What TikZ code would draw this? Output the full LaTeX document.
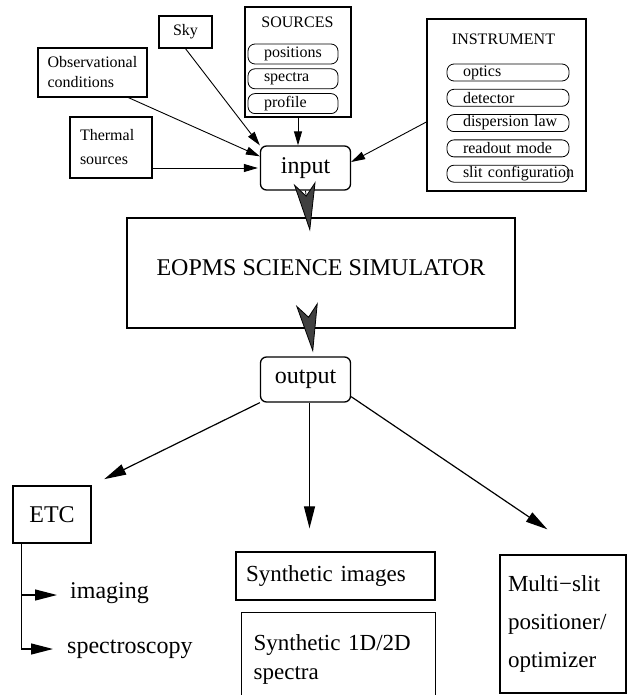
\documentclass[tikz,border=0pt]{standalone}
\usepackage{fontspec}
\setmainfont{Liberation Serif}
\usepackage{tikz}
\usetikzlibrary{arrows.meta, positioning}
\definecolor{headgray}{HTML}{404040}
\newcommand{\smalltxt}{\fontsize{16}{20}\selectfont}
\newcommand{\bigtxt}{\fontsize{24}{30}\selectfont}
\tikzstyle{box} = [rectangle, draw=black, line width=1.3pt, inner sep=0pt]
\tikzstyle{roundbox} = [box, rounded corners=6pt, minimum width=90pt, minimum height=44pt, font=\bigtxt]
\tikzstyle{pill} = [rectangle, draw=black, line width=0.8pt, rounded corners=7pt, inner ysep=0pt, inner xsep=16pt, align=left, font=\smalltxt]
\tikzstyle{arrow} = [line width=0.9pt, -{Triangle[length=14pt,width=8pt]}]
\tikzstyle{bigarrow} = [line width=0.8pt, -{Stealth[length=49pt,width=22pt,inset=13pt,fill=headgray]}]
\tikzstyle{outarrow} = [line width=1.2pt, -{Triangle[length=22pt,width=11pt]}]

\begin{document}
\begin{tikzpicture}[x=1pt, y=-1pt, node distance=4pt]
\useasboundingbox (0,0) rectangle (627,695);
\clip (0,0) rectangle (627,695);

% Inputs
\node (sky) [box, minimum width=53pt, minimum height=32pt, font=\smalltxt] at (185.5,32) {Sky};
\node (obs) [box, minimum width=109pt, minimum height=49pt, text width=90pt, align=left, font=\smalltxt] at (92.5,72.5) {Observational\\conditions};
\node (thermal) [box, minimum width=82pt, minimum height=61pt, text width=62pt, align=left, font=\fontsize{16}{24}\selectfont] at (111,147.5) {Thermal\\sources};

% Sources
\node (sources) [box, minimum width=106pt, minimum height=110pt] at (298,62) {};
\node (src_title) [font=\smalltxt, inner sep=0pt] at (297.5,22.5) {SOURCES};
\node (src_pos) [pill, text width=58pt, minimum height=20pt] at (293,54) {positions};
\node (src_spec) [pill, text width=58pt, minimum height=20pt, below=of src_pos] {spectra};
\node (src_prof) [pill, text width=58pt, minimum height=20pt, below=of src_spec] {profile};

% Instrument
\node (instrument) [box, minimum width=159pt, minimum height=172pt] at (506.5,105) {};
\node (ins_title) [font=\smalltxt, inner sep=0pt] at (503.5,39.5) {INSTRUMENT};
\node (ins_opt) [pill, text width=90pt, minimum height=17pt] at (508,72.5) {optics};
\node (ins_det) [pill, text width=90pt, minimum height=17pt, below=7.5pt of ins_opt] {detector};
\node (ins_disp) [pill, text width=90pt, minimum height=17pt, below=7.5pt of ins_det] {\mbox{dispersion law}};
\node (ins_read) [pill, text width=90pt, minimum height=17pt, below=7.5pt of ins_disp] {\mbox{readout mode}};
\node (ins_slit) [pill, text width=90pt, minimum height=17pt, below=7.5pt of ins_read] {\mbox{slit configuration}};

% Simulator
\node (input) [roundbox] at (305.5,168) {input};
\node (sim) [box, minimum width=388pt, minimum height=110pt, font=\bigtxt, text depth=10pt] at (321,273) {EOPMS SCIENCE SIMULATOR};
\node (output) [roundbox, minimum height=45pt] at (305.5,379.5) {output};

% Products
\node (etc) [box, minimum width=78pt, minimum height=57pt, font=\bigtxt] at (52,514.5) {ETC};
\node (imaging) [font=\bigtxt, inner sep=0pt, anchor=base west] at (70,598) {imaging};
\node (spectro) [font=\bigtxt, inner sep=0pt, anchor=base west] at (67,653) {spectroscopy};
\node (synimg) [box, minimum width=199pt, minimum height=48pt, text width=179pt, align=left, font=\fontsize{23}{30}\selectfont] at (335.5,576) {Synthetic images};
\node (synspec) [box, anchor=north west, inner xsep=12pt, inner ysep=22pt, text width=170pt, align=left, font=\fontsize{23}{29}\selectfont] at (241,612) {Synthetic 1D/2D\\spectra};
\node (multi) [box, minimum width=126pt, minimum height=138pt, text width=110pt, align=left, font=\fontsize{23}{38}\selectfont] at (563,624) {Multi−slit\\positioner/\\optimizer};

% Connections
\draw [arrow] (sky.south) -- (input.north west);
\draw [arrow] ([xshift=36pt]obs.south) -- ([yshift=-11pt]input.north west);
\draw [arrow] (thermal.east |- input.west) -- ([xshift=-2pt]input.west);
\draw [arrow] (sources.south) -- (sources.south |- input.north);
\draw [arrow] ([yshift=-17pt]instrument.west) -- ([yshift=6pt]input.east);

\draw [bigarrow] (input.south) -- ([xshift=-11pt,yshift=-14pt]sim.north);
\draw [bigarrow] ([xshift=-11pt]sim.south) -- ([xshift=7.5pt,yshift=4pt]output.north);

\draw [outarrow, shorten >=14pt] (output.south west) -- (etc.north east);
\draw [outarrow] ([xshift=4pt]output.south) -- ([xshift=-26pt,yshift=23pt]synimg.north);
\draw [outarrow] ([yshift=6pt]output.south east) -- ([xshift=48pt,yshift=25pt]multi.north west);
\draw [outarrow] ([xshift=9pt]etc.south west) |- ([xshift=-13pt,yshift=3pt]imaging.base west);
\draw [outarrow] ([xshift=9pt]etc.south west) |- ([xshift=-14pt,yshift=4pt]spectro.base west);

\end{tikzpicture}
\end{document}
